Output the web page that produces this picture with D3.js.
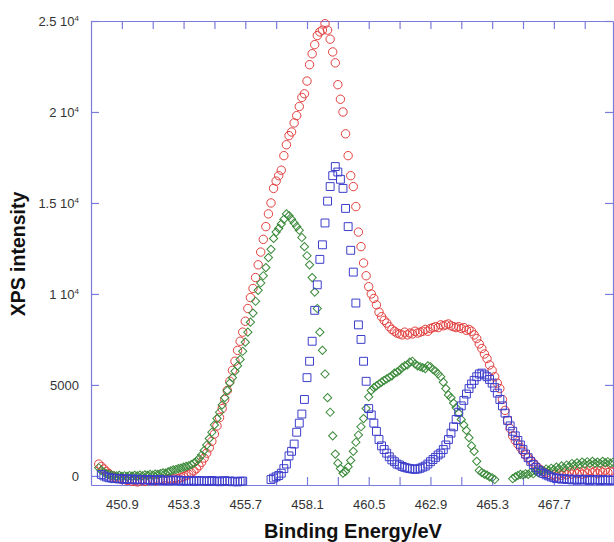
<!DOCTYPE html>
<html>
<head>
<meta charset="utf-8">
<script src="https://cdn.jsdelivr.net/npm/d3@7"></script>
<style>
body { margin: 0; background: #ffffff; }
</style>
</head>
<body>
<svg></svg>
<script>
const WIDTH = 614;
const HEIGHT = 542;

// binding energy of every sample (eV)
const energy = [
    450.0, 450.1, 450.2, 450.3, 450.4, 450.5, 450.6, 450.7, 450.8, 450.9,
    451.0, 451.1, 451.2, 451.3, 451.4, 451.5, 451.6, 451.7, 451.8, 451.9,
    452.0, 452.1, 452.2, 452.3, 452.4, 452.5, 452.6, 452.7, 452.8, 452.9,
    453.0, 453.1, 453.2, 453.3, 453.4, 453.5, 453.6, 453.7, 453.8, 453.9,
    454.0, 454.1, 454.2, 454.3, 454.4, 454.5, 454.6, 454.7, 454.8, 454.9,
    455.0, 455.1, 455.2, 455.3, 455.4, 455.5, 455.6, 455.7, 455.8, 455.9,
    456.0, 456.1, 456.2, 456.3, 456.4, 456.5, 456.6, 456.7, 456.8, 456.9,
    457.0, 457.1, 457.2, 457.3, 457.4, 457.5, 457.6, 457.7, 457.8, 457.9,
    458.0, 458.1, 458.2, 458.3, 458.4, 458.5, 458.6, 458.7, 458.8, 458.9,
    459.0, 459.1, 459.2, 459.3, 459.4, 459.5, 459.6, 459.7, 459.8, 459.9,
    460.0, 460.1, 460.2, 460.3, 460.4, 460.5, 460.6, 460.7, 460.8, 460.9,
    461.0, 461.1, 461.2, 461.3, 461.4, 461.5, 461.6, 461.7, 461.8, 461.9,
    462.0, 462.1, 462.2, 462.3, 462.4, 462.5, 462.6, 462.7, 462.8, 462.9,
    463.0, 463.1, 463.2, 463.3, 463.4, 463.5, 463.6, 463.7, 463.8, 463.9,
    464.0, 464.1, 464.2, 464.3, 464.4, 464.5, 464.6, 464.7, 464.8, 464.9,
    465.0, 465.1, 465.2, 465.3, 465.4, 465.5, 465.6, 465.7, 465.8, 465.9,
    466.0, 466.1, 466.2, 466.3, 466.4, 466.5, 466.6, 466.7, 466.8, 466.9,
    467.0, 467.1, 467.2, 467.3, 467.4, 467.5, 467.6, 467.7, 467.8, 467.9,
    468.0, 468.1, 468.2, 468.3, 468.4, 468.5, 468.6, 468.7, 468.8, 468.9,
    469.0, 469.1, 469.2, 469.3, 469.4, 469.5, 469.6, 469.7, 469.8, 469.9,
    470.0
];

// red circles - measured spectrum
const measured = [
    650, 520, 380, 240, 120, 20, -60, -120, -150, -200,
    -180, -250, -220, -300, -260, -330, -280, -240, -300, -220,
    -260, -200, -280, -230, -180, -250, -200, -150, -210, -160,
    -120, -150, -80, -40, 20, 90, 180, 280, 400, 560,
    750, 980, 1250, 1550, 1900, 2300, 2750, 3200, 3700, 4200,
    4700, 5200, 5800, 6300, 6900, 7400, 7900, 8500, 9200, 9800,
    10300, 10900, 11600, 12300, 13000, 13700, 14400, 15000, 15800, 16200,
    16500, 16800, 17600, 18200, 18700, 18900, 19400, 19800, 20300, 20800,
    21000, 21700, 22600, 23200, 23700, 24200, 24400, 24500, 24850, 24500,
    24000, 23300, 22700, 21500, 20700, 20000, 18800, 17600, 16500, 15900,
    14800, 13400, 12600, 11700, 11000, 10400, 10000, 9750, 9400, 9000,
    8750, 8550, 8400, 8200, 8050, 7950, 7850, 7800, 7750, 7900,
    7750, 7850, 7800, 7950, 7850, 7900, 7950, 8050, 7950, 8100,
    8150, 8200, 8150, 8300, 8250, 8300, 8350, 8250, 8200, 8150,
    8200, 8100, 8150, 8000, 8050, 7950, 7750, 7550, 7250, 7000,
    6700, 6450, 6100, 5800, 5450, 5100, 4800, 4200, 3600, 3050,
    2600, 2200, 1950, 1750, 1550, 1350, 1150, 1000, 850, 700,
    550, 420, 320, 230, 160, 80, 20, 60, -20, 100,
    30, 150, 60, 200, 100, 250, 120, 220, 90, 260,
    150, 300, 180, 250, 120, 280, 200, 320, 180, 260,
    200
];

// green diamonds - first component
const componentA = [
    450, 300, 200, 120, 80, 40, 20, 0, 30, -20,
    10, -30, 20, -10, 30, 0, 40, 10, 60, 30,
    80, 50, 100, 80, 130, 170, 150, 220, 280, 330,
    350, 400, 430, 480, 520, 560, 620, 700, 800, 950,
    1150, 1400, 1700, 2050, 2400, 2800, 3150, 3500, 3900, 4300,
    4700, 5100, 5400, 5750, 6050, 6400, 6850, 7350, 7900, 8450,
    8950, 9600, 10200, 10600, 11000, 11450, 12000, 12450, 13050, 13400,
    13600, 13850, 14100, 14400, 14300, 14100, 13900, 13700, 13500, 13100,
    12600, 12100, 11600, 10900, 10100, 9200, 7900, 6900, 5600, 4300,
    3500, 2200, 1200, 700, 400, 150, 250, 500, 850, 1350,
    1850, 2250, 2700, 3150, 3700, 4350, 4700, 4850, 4950, 5050,
    5150, 5250, 5330, 5420, 5500, 5650, 5700, 5800, 5950, 6050,
    6100, 6250, 6300, 6150, 6050, 6000, 5950, 5900, 6050, 6000,
    5850, 5750, 5600, 5450, 5150, 4800, 4450, 4300, 4000, 3750,
    3450, 3100, 2800, 2500, 2100, 1650, 1350, 800, 300, 180,
    100, 40, -50, -100, -200, null, null, null, null, null,
    null, -150, -50, 20, 80, 50, 120, 80, 180, 120,
    250, 180, 300, 250, 380, 300, 420, 350, 480, 400,
    550, 450, 600, 520, 680, 580, 720, 620, 760, 650,
    780, 680, 800, 700, 760, 680, 800, 720, 780, 700,
    750
];

// blue squares - second component
const componentB = [
    null, 80, 0, -60, -100, -120, -150, -130, -170, -150,
    -190, -160, -200, -170, -220, -180, -210, -190, -230, -200,
    -220, -250, -210, -240, -200, -260, -230, -270, -240, -220,
    -260, -230, -280, -250, -290, -260, -240, -300, -270, -250,
    -290, -260, -310, -280, -250, -300, -270, -320, -290, -260,
    -300, -280, -320, -290, -330, -300, -280, null, null, null,
    null, null, null, null, null, null, null, -200, -120, -50,
    20, 150, 400, 650, 1100, 1350, 1750, 2400, 2900, 3400,
    4200, 5400, 6300, 7400, 9100, 10500, 11900, 12700, 13900, 15100,
    15900, 16500, 17000, 16700, 16300, 15800, 14700, 13700, 12400, 11200,
    9500, 8300, 7500, 6300, 5200, 3700, 3350, 2900, 2450, 2000,
    1650, 1450, 1250, 1050, 880, 780, 650, 600, 520, 470,
    430, 400, 380, 360, 380, 420, 480, 540, 650, 780,
    900, 1020, 1150, 1250, 1450, 1700, 2000, 2350, 2700, 3100,
    3500, 3850, 4150, 4500, 4800, 5050, 5250, 5450, 5600, 5650,
    5550, 5450, 5300, 5100, 4850, 4550, 4200, 3850, 3450, 3050,
    2750, 2450, 2200, 1950, 1700, 1450, 1200, 1000, 800, 620,
    470, 330, 220, 130, 60, 0, -60, -100, -150, -120,
    -180, -150, -200, -170, -220, -180, -240, -200, -180, -230,
    -200, -250, -190, -230, -210, -260, -200, -240, -220, -250,
    -230
];

const xTicks = [450.9, 452.1, 453.3, 454.5, 455.7, 456.9, 458.1, 459.3,
    460.5, 461.7, 462.9, 464.1, 465.3, 466.5, 467.7, 468.9];
const xTickLabels = ["450.9", "453.3", "455.7", "458.1", "460.5", "462.9", "465.3", "467.7"];
const yTicks = [0, 5000, 10000, 15000, 20000, 25000];
const yTickLabels = ["0", "5000", "1 10^4", "1.5 10^4", "2 10^4", "2.5 10^4"];

const AXIS_COLOR = "#7b7bdc";
const TEXT_COLOR = "#333333";

function buildPoints(values) {
    return energy
        .map((e, i) => ({ e: e, v: values[i] }))
        .filter(d => d.v !== null);
}

function styleAxis(g) {
    g.select(".domain").attr("stroke", AXIS_COLOR).attr("stroke-width", 1.2);
    g.selectAll(".tick line").attr("stroke", AXIS_COLOR).attr("stroke-width", 1.2);
    g.selectAll(".tick text")
        .attr("fill", TEXT_COLOR)
        .style("font-family", "Arial, 'Liberation Sans', Helvetica")
        .style("font-size", "13px");
}

function drawChart(selection) {
    selection.attr("width", WIDTH).attr("height", HEIGHT);

    const x = d3.scaleLinear().domain([449.7, 470.0]).range([91, 613]);
    const y = d3.scaleLinear().domain([-500, 25000]).range([485, 21]);

    // frame: four axes, ticks pointing inwards
    selection.append("g")
        .attr("transform", "translate(0,485)")
        .call(d3.axisBottom(x)
            .tickValues(xTicks)
            .tickSizeInner(-8)
            .tickSizeOuter(0)
            .tickPadding(15)
            .tickFormat(d => {
                const s = d.toFixed(1);
                return xTickLabels.includes(s) ? s : "";
            }))
        .call(styleAxis);

    selection.append("g")
        .attr("transform", "translate(0,21)")
        .call(d3.axisTop(x).tickValues(xTicks).tickSizeInner(-8).tickSizeOuter(0).tickFormat(""))
        .call(styleAxis);

    selection.append("g")
        .attr("transform", "translate(613,0)")
        .call(d3.axisRight(y).tickValues(yTicks).tickSizeInner(-8).tickSizeOuter(0).tickFormat(""))
        .call(styleAxis);

    const yAxis = selection.append("g")
        .attr("transform", "translate(91,0)")
        .call(d3.axisLeft(y)
            .tickValues(yTicks)
            .tickSizeInner(-8)
            .tickSizeOuter(0)
            .tickPadding(12)
            .tickFormat((d, i) => yTickLabels[i]))
        .call(styleAxis);

    // write "1.5 10^4" as a real superscript
    yAxis.selectAll(".tick text").each(function (d, i) {
        const label = yTickLabels[i];
        if (!label.includes("^")) return;
        const parts = label.split("^");
        const t = d3.select(this).text(null);
        t.append("tspan").text(parts[0]);
        t.append("tspan")
            .attr("dy", "-0.55em")
            .style("font-size", "8px")
            .text(parts[1]);
    });

    // markers: red circles, green diamonds, blue squares
    selection.append("g")
        .selectAll("circle")
        .data(buildPoints(measured))
        .enter().append("circle")
        .attr("cx", d => x(d.e))
        .attr("cy", d => y(d.v))
        .attr("r", 4.2)
        .style("fill", "none")
        .style("stroke", "#e2403f")
        .style("stroke-width", "1px");

    const diamond = d3.symbol().type(d3.symbolSquare).size(34);
    selection.append("g")
        .selectAll("path")
        .data(buildPoints(componentA))
        .enter().append("path")
        .attr("d", diamond)
        .attr("transform", d => `translate(${x(d.e)},${y(d.v)})rotate(45)`)
        .style("fill", "none")
        .style("stroke", "#3a8a3a")
        .style("stroke-width", "1px");

    const square = d3.symbol().type(d3.symbolSquare).size(62);
    selection.append("g")
        .selectAll("path")
        .data(buildPoints(componentB))
        .enter().append("path")
        .attr("d", square)
        .attr("transform", d => `translate(${x(d.e)},${y(d.v)})`)
        .style("fill", "none")
        .style("stroke", "#3d3dcc")
        .style("stroke-width", "1px");

    // axis titles
    selection.append("text")
        .attr("transform", "translate(25,254)rotate(-90)")
        .attr("text-anchor", "middle")
        .style("font-family", "Arial, 'Liberation Sans', Helvetica")
        .style("font-size", "19.5px")
        .style("font-weight", "bold")
        .attr("fill", "#111111")
        .text("XPS intensity");

    selection.append("text")
        .attr("x", 353)
        .attr("y", 538)
        .attr("text-anchor", "middle")
        .style("font-family", "Arial, 'Liberation Sans', Helvetica")
        .style("font-size", "20px")
        .style("font-weight", "bold")
        .attr("fill", "#111111")
        .text("Binding Energy/eV");
}

function onReady() {
    drawChart(d3.select("svg"));
}

document.addEventListener("DOMContentLoaded", onReady);
</script>
</body>
</html>
